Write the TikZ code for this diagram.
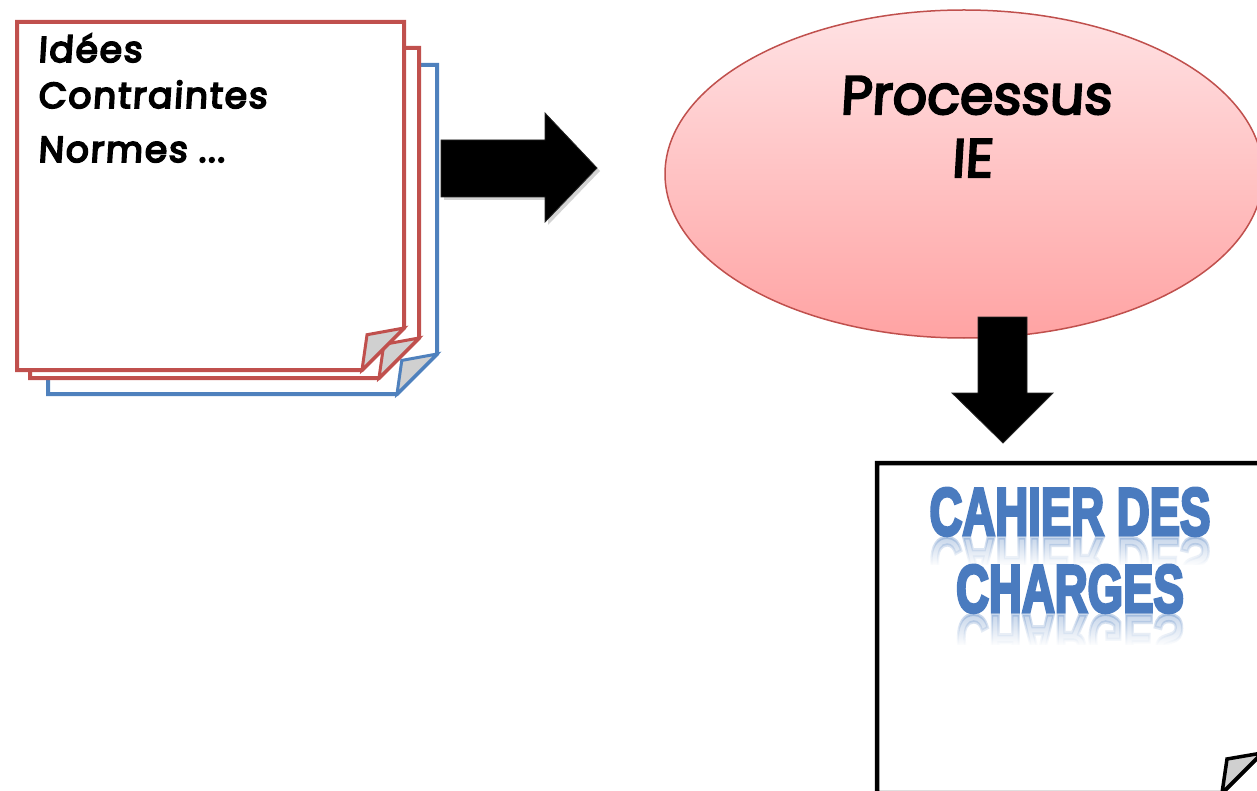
\documentclass[tikz,border=0pt]{standalone}
\usepackage{fontspec}
\newfontfamily\handfont{Poppins}[FakeBold=4, FakeSlant=0.06]
\newfontfamily\notefont{Poppins}[FakeBold=5, FakeSlant=0.06, LetterSpace=5]
\newfontfamily\titlefont{Liberation Sans}[BoldFeatures={FakeBold=5}]
\usetikzlibrary{shapes.geometric,fadings,shadows}

\definecolor{sheetred}{HTML}{C0504D}
\definecolor{sheetblue}{HTML}{4F81BD}
\definecolor{flapgray}{HTML}{D0D0D0}
\definecolor{pinktop}{HTML}{FFE2E4}
\definecolor{pinkbottom}{HTML}{FFA3A3}
\definecolor{wordblue}{HTML}{4A7BBF}

\tikzfading[name=reflectfade, top color=transparent!100, bottom color=transparent!0]

% sheet with a folded bottom-right corner: left, top, right, bottom, cut, colour
\newcommand\foldsheet[6]{%
  \draw[sheet, draw=#6] (#1,#2) -- (#3,#2) -- (#3,{#4-#5}) -- ({#3-#5},#4) -- (#1,#4) -- cycle;
  \draw[flap, draw=#6] (#3,{#4-#5}) -- ({#3-0.88*#5},{#4-0.84*#5}) -- ({#3-#5},#4) -- cycle;
}

\begin{document}
\begin{tikzpicture}[x=1pt,y=-1pt,
  sheet/.style={line width=4pt, line join=miter, fill=white},
  flap/.style={line width=3pt, line join=miter, fill=flapgray},
  blockarrow/.style={fill=black, draw=black!85, line width=0.8pt, line join=miter},
  hand/.style={font=\notefont\fontsize{36}{50}\selectfont, text=black, inner sep=0pt},
  proc/.style={font=\handfont\fontsize{54}{62}\selectfont, text=black, inner sep=0pt},
  wordart/.style={font=\titlefont\bfseries\fontsize{67}{70}\selectfont, text=wordblue, inner sep=0pt}]
\useasboundingbox (0,0) rectangle (1257,791);
\clip (0,0) rectangle (1257,791);

% stack of notes
\foldsheet{48}{65}{437}{394}{40}{sheetblue}
\foldsheet{30}{48}{419}{378}{40}{sheetred}
\foldsheet{17}{22}{404}{370}{42}{sheetred}
\node[hand, anchor=base west] (ideas) at (38,62) {Idées};
\node[hand, anchor=base west] (constraints) at (38,108) {Contraintes};
\node[hand, anchor=base west] (norms) at (38,162) {Normes ...};

% right block arrow
\draw[blockarrow, drop shadow={opacity=0.35, shadow xshift=3pt, shadow yshift=-3pt}]
  (441,140) -- (545,140) -- (545,113) -- (597,168) -- (545,222) -- (545,197) -- (441,197) -- cycle;

% process ellipse
\node[ellipse, draw=sheetred, line width=1.5pt, top color=pinktop, bottom color=pinkbottom,
      minimum width=598pt, minimum height=328pt, inner sep=0pt] (process) at (964,174) {};
\node[proc, anchor=base] (processtitle) at (976,114) {Processus};
\node[proc, anchor=base] (processsub) at (972,177) {IE};

% down block arrow
\draw[blockarrow]
  (978,317) -- (1027,317) -- (1027,393) -- (1053,393) -- (1003,443) -- (952,393) -- (978,393) -- cycle;

% specification sheet
\draw[line width=4.5pt, line join=miter, fill=white]
  (877,463) -- (1262,463) -- (1262,753) -- (1222,793) -- (877,793) -- cycle;
\draw[line width=3.5pt, line join=miter, fill=flapgray]
  (1262,753) -- (1227,759) -- (1222,793) -- cycle;

\node[wordart, anchor=base] (cdcone) at (1070,535) {\scalebox{0.68}[1]{CAHIER DES}};
\begin{scope}
  \clip (900,537) rectangle (1240,568);
  \begin{scope}[shift={(1070,538)}, yscale=-1]
    \node[wordart, anchor=base, transform shape, text opacity=0.3] (cdconerefl) at (0,0) {\scalebox{0.68}[1]{CAHIER DES}};
  \end{scope}
  \fill[white, path fading=reflectfade] (900,537) rectangle (1240,566);
  \fill[white] (900,565) rectangle (1240,570);
\end{scope}

\node[wordart, anchor=base] (cdctwo) at (1070,612) {\scalebox{0.68}[1]{CHARGES}};
\begin{scope}
  \clip (900,614) rectangle (1240,648);
  \begin{scope}[shift={(1070,615)}, yscale=-1]
    \node[wordart, anchor=base, transform shape, text opacity=0.3] (cdctworefl) at (0,0) {\scalebox{0.68}[1]{CHARGES}};
  \end{scope}
  \fill[white, path fading=reflectfade] (900,614) rectangle (1240,646);
  \fill[white] (900,645) rectangle (1240,650);
\end{scope}
\end{tikzpicture}
\end{document}
